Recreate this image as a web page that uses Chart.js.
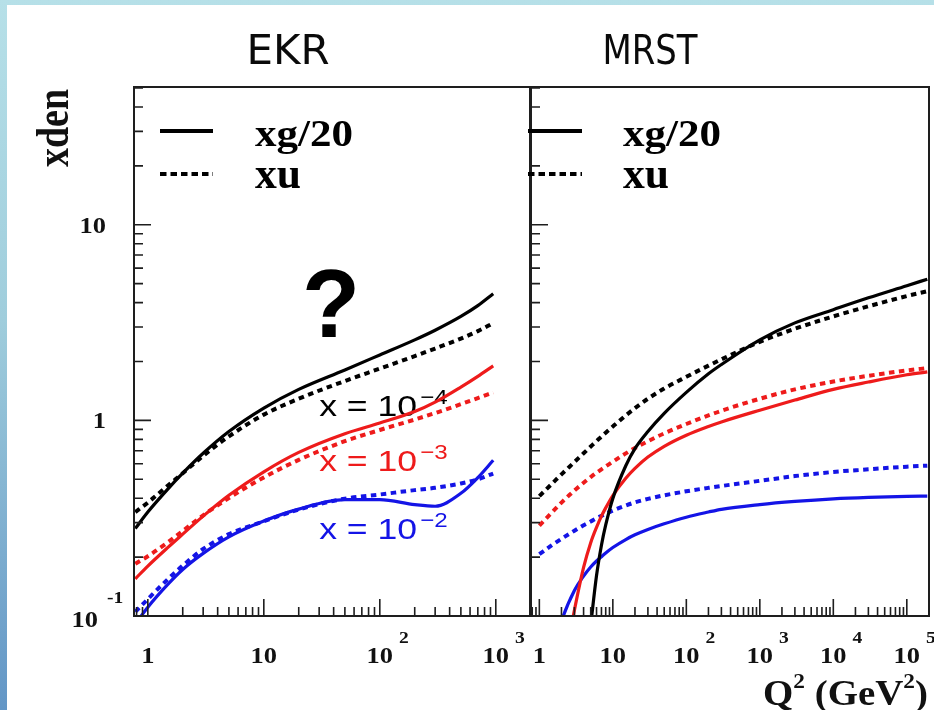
<!DOCTYPE html>
<html>
<head>
<meta charset="utf-8">
<title>xden vs Q2 - EKR / MRST</title>
<script src="https://cdn.jsdelivr.net/npm/chart.js@4.4.1/dist/chart.umd.min.js"></script>
<style>
  html, body { margin: 0; padding: 0; }
  body {
    width: 934px; height: 710px; overflow: hidden; position: relative;
    background: linear-gradient(180deg, #b6e0e8 0%, #9fcddc 45%, #6396c6 100%);
  }
  #sheet { position: absolute; left: 7px; top: 5px; right: 0; bottom: 0; background: #fff; }
  canvas { position: absolute; top: 0; }
  #ekr { left: 0; }
  #mrst { left: 520px; }
</style>
</head>
<body>
<div id="sheet"></div>
<canvas id="ekr" width="531" height="710"></canvas>
<canvas id="mrst" width="414" height="710"></canvas>
<script>
// Q^2 points (GeV^2) and curves.
// g = xg/20 (solid), u = xu (dashed); 4/3/2 -> x = 1e-4 / 1e-3 / 1e-2
const ekrQ2 = [0.78, 1, 1.5, 2, 3, 5, 10, 20, 50, 100, 200, 300, 500, 700, 950];
const ekrG4 = [0.28, 0.34, 0.448, 0.537, 0.679, 0.877, 1.156, 1.44, 1.81, 2.16, 2.58, 2.89, 3.40, 3.86, 4.44];
const ekrU4 = [0.34, 0.38, 0.466, 0.537, 0.658, 0.828, 1.07, 1.29, 1.59, 1.84, 2.13, 2.33, 2.62, 2.86, 3.14];
const ekrG3 = [0.155, 0.18, 0.225, 0.262, 0.324, 0.414, 0.546, 0.686, 0.855, 0.969, 1.11, 1.24, 1.48, 1.68, 1.90];
const ekrU3 = [0.185, 0.202, 0.239, 0.272, 0.327, 0.401, 0.511, 0.628, 0.783, 0.893, 1.01, 1.09, 1.21, 1.30, 1.39];
const ekrG2 = [0.091, 0.111, 0.146, 0.173, 0.209, 0.254, 0.306, 0.352, 0.393, 0.393, 0.371, 0.364, 0.424, 0.51, 0.625];
const ekrU2 = [0.105, 0.122, 0.155, 0.181, 0.220, 0.262, 0.305, 0.35, 0.398, 0.418, 0.44, 0.452, 0.476, 0.50, 0.535];

const mrstQ2 = [1, 1.5, 2, 3, 4, 5, 6, 7, 8, 10, 15, 20, 30, 50, 100, 200, 300, 1000, 3000, 1e4, 3e4, 1e5, 1.9e5];
const mrstG4 = [null, null, null, null, null, 0.09, 0.161, 0.230, 0.292, 0.399, 0.586, 0.717, 0.877, 1.086, 1.39, 1.73, 1.93, 2.58, 3.15, 3.68, 4.23, 4.88, 5.27];
const mrstU4 = [0.41, 0.476, 0.53, 0.612, 0.679, 0.735, 0.784, 0.826, 0.865, 0.931, 1.06, 1.155, 1.29, 1.455, 1.67, 1.905, 2.05, 2.52, 2.94, 3.40, 3.83, 4.32, 4.57];
const mrstG3 = [null, null, 0.0475, 0.107, 0.177, 0.237, 0.284, 0.324, 0.357, 0.413, 0.506, 0.568, 0.649, 0.737, 0.840, 0.931, 0.982, 1.127, 1.27, 1.44, 1.57, 1.71, 1.77];
const mrstU3 = [0.29, 0.34, 0.38, 0.438, 0.48, 0.513, 0.54, 0.562, 0.582, 0.615, 0.678, 0.722, 0.782, 0.858, 0.958, 1.06, 1.12, 1.29, 1.44, 1.58, 1.69, 1.80, 1.85];
const mrstG2 = [null, 0.061, 0.0938, 0.135, 0.160, 0.178, 0.191, 0.201, 0.210, 0.224, 0.246, 0.260, 0.277, 0.296, 0.320, 0.340, 0.351, 0.371, 0.385, 0.397, 0.404, 0.409, 0.410];
const mrstU2 = [0.207, 0.231, 0.248, 0.273, 0.291, 0.304, 0.316, 0.325, 0.333, 0.346, 0.367, 0.381, 0.397, 0.414, 0.434, 0.452, 0.462, 0.491, 0.519, 0.545, 0.562, 0.580, 0.587];

const ekrXTicks = [1, 10, 100, 1000];
const mrstXTicks = [1, 10, 100, 1000, 10000, 100000];
const yTicks = [0.1, 1, 10];

const BLACK = '#000000', RED = '#ee1b1b', BLUE = '#1414e6';
const SERIF = '"Liberation Serif", "Times New Roman", serif';
const SANS = '"Liberation Sans", Arial, sans-serif';
const NARROW = '"Liberation Sans Narrow", "DejaVu Sans Condensed", sans-serif';

function pts(q2, vals) {
  const out = [];
  q2.forEach((q, i) => { if (vals[i] != null) out.push({ x: q, y: vals[i] }); });
  return out;
}

function curve(q2, vals, color, dashed) {
  return {
    data: pts(q2, vals),
    borderColor: color,
    borderWidth: dashed ? 4 : 3.2,
    borderDash: dashed ? [5.5, 4.5] : [],
    pointRadius: 0,
    fill: false,
    cubicInterpolationMode: 'monotone',
    clip: 0
  };
}

// 10^n the way ROOT writes it
function expLabel(v) {
  const n = Math.round(Math.log10(v));
  if (n === 0) return { base: '1' };
  if (n === 1) return { base: '10' };
  return { base: '10', exp: String(n) };
}

// text squeezed/stretched horizontally (the slide is stretched)
function sText(ctx, s, x, y, font, sx, align) {
  ctx.save();
  ctx.font = font;
  ctx.translate(x, y);
  ctx.scale(sx, 1);
  ctx.textAlign = align || 'left';
  ctx.textBaseline = 'alphabetic';
  ctx.fillText(s, 0, 0);
  ctx.restore();
}
function sWidth(ctx, s, font, sx) {
  ctx.save();
  ctx.font = font;
  const w = ctx.measureText(s).width * sx;
  ctx.restore();
  return w;
}
function fitText(ctx, s, x, y, font, width, align) {
  ctx.save();
  ctx.font = font;
  const sx = width / ctx.measureText(s).width;
  ctx.restore();
  sText(ctx, s, x, y, font, sx, align);
}

const XF = 'bold 23px ' + SERIF;
const EF = 'bold 17px ' + SERIF;

function decor(cfg) {
  return {
    id: 'decor',
    beforeDatasetsDraw(chart) {
      const { ctx, scales: { x, y } } = chart;
      (cfg.notes || []).forEach(n => {
        ctx.fillStyle = n.color;
        const px = x.getPixelForValue(n.q2), py = y.getPixelForValue(n.y);
        fitText(ctx, 'x = 10', px, py, '30px ' + SANS, 98);
        sText(ctx, n.exp, px + 101, py - 12, '21px ' + SANS, 1.15);
      });
    },
    afterDatasetsDraw(chart) {
      const { ctx, chartArea: a, scales: { x, y } } = chart;
      ctx.save();
      // tick marks inside the frame
      ctx.strokeStyle = '#1e1e1e';
      ctx.lineWidth = 1.6;
      ctx.beginPath();
      for (let d = -1; d <= 6; d++) {
        for (let m = 1; m < 10; m++) {
          const v = m * Math.pow(10, d);
          if (v > x.min && v < x.max) {
            const p = x.getPixelForValue(v);
            ctx.moveTo(p, a.bottom);
            ctx.lineTo(p, a.bottom - (m === 1 ? 17 : 9));
          }
          if (v > y.min * 1.001 && v < y.max) {
            const p = y.getPixelForValue(v);
            ctx.moveTo(a.left, p);
            ctx.lineTo(a.left + (m === 1 ? 17 : 9), p);
          }
        }
      }
      ctx.stroke();
      ctx.lineWidth = 2;
      ctx.strokeRect(a.left, a.top, a.right - a.left, a.bottom - a.top);

      ctx.fillStyle = '#111';
      // x labels
      cfg.xTicks.forEach(v => {
        const p = x.getPixelForValue(v), L = expLabel(v);
        sText(ctx, L.base, p, 663, XF, 1.15, 'center');
        if (L.exp) {
          const w = sWidth(ctx, L.base, XF, 1.15);
          sText(ctx, L.exp, p + w / 2 + 6, 643, EF, 1.15);
        }
      });
      // y labels
      if (cfg.yLabels) {
        yTicks.forEach(v => {
          const p = y.getPixelForValue(v), L = expLabel(v);
          if (L.exp) {
            sText(ctx, L.base, 98, p + 11, XF, 1.15, 'right');
            sText(ctx, L.exp, 107, p - 13, EF, 1.15);
          } else {
            sText(ctx, L.base, 106, p + 8, XF, 1.15, 'right');
          }
        });
        // axis title, rotated
        ctx.save();
        ctx.font = 'bold 38px ' + SERIF;
        ctx.translate(68, 128);
        ctx.scale(1.2, 1);
        ctx.rotate(-Math.PI / 2);
        ctx.textAlign = 'center';
        ctx.fillText('xden', 0, 0);
        ctx.restore();
      }

      // legend
      const lg = cfg.legend;
      ctx.strokeStyle = '#000';
      ctx.lineWidth = 4;
      ctx.setLineDash([]);
      ctx.beginPath(); ctx.moveTo(lg.x0, 131); ctx.lineTo(lg.x1, 131); ctx.stroke();
      ctx.setLineDash([6.5, 4]);
      ctx.beginPath(); ctx.moveTo(lg.x0, 174); ctx.lineTo(lg.x1, 174); ctx.stroke();
      ctx.setLineDash([]);
      ctx.fillStyle = '#000';
      fitText(ctx, 'xg/20', lg.tx, 146, 'bold 37px ' + SERIF, 98);
      fitText(ctx, 'xu', lg.tx, 188, 'bold 45px ' + SERIF, 46);

      // panel title
      ctx.fillStyle = '#0a0a0a';
      fitText(ctx, cfg.title.text, cfg.title.cx, 64, '41px ' + NARROW, cfg.title.w, 'center');

      if (cfg.question) {
        ctx.fillStyle = '#000';
        fitText(ctx, '?', 302, 337, 'bold 96px ' + SANS, 58);
      }

      if (cfg.qLabel) {
        const big = 'bold 35px ' + SERIF, small = 'bold 21px ' + SERIF;
        const parts = [
          { t: 'Q', f: big, dy: 0 }, { t: '2', f: small, dy: -17 },
          { t: ' (GeV', f: big, dy: 0 }, { t: '2', f: small, dy: -17 },
          { t: ')', f: big, dy: 0 }
        ];
        let W = 0;
        parts.forEach(pt => { pt.w = sWidth(ctx, pt.t, pt.f, 1); W += pt.w; });
        const sx = 165 / W;
        let cx = cfg.qLabel - 520;
        ctx.fillStyle = '#111';
        parts.forEach(pt => { sText(ctx, pt.t, cx, 705 + pt.dy, pt.f, sx); cx += pt.w * sx; });
      }
      ctx.restore();
    }
  };
}

function makeChart(id, q2, series, xmin, xmax, padding, cfg) {
  const datasets = [
    curve(q2, series.g4, BLACK, false), curve(q2, series.u4, BLACK, true),
    curve(q2, series.g3, RED, false), curve(q2, series.u3, RED, true),
    curve(q2, series.g2, BLUE, false), curve(q2, series.u2, BLUE, true)
  ];
  return new Chart(document.getElementById(id).getContext('2d'), {
    type: 'line',
    data: { datasets },
    options: {
      responsive: false,
      animation: false,
      devicePixelRatio: 1,
      layout: { padding },
      plugins: { legend: { display: false }, tooltip: { enabled: false } },
      scales: {
        x: { type: 'logarithmic', min: xmin, max: xmax, display: false },
        y: { type: 'logarithmic', min: 0.1, max: 50.6, display: false }
      }
    },
    plugins: [decor(cfg)]
  });
}

makeChart('ekr', ekrQ2,
  { g4: ekrG4, u4: ekrU4, g3: ekrG3, u3: ekrU3, g2: ekrG2, u2: ekrU2 },
  0.76, 1972, { left: 134, right: 1, top: 87, bottom: 94 },
  {
    xTicks: ekrXTicks, yLabels: true, question: true,
    legend: { x0: 160, x1: 213, tx: 255 },
    title: { text: 'EKR', cx: 288, w: 83 },
    notes: [
      { q2: 30, y: 1.05, exp: '\u22124', color: BLACK },
      { q2: 30, y: 0.55, exp: '\u22123', color: RED },
      { q2: 30, y: 0.247, exp: '\u22122', color: BLUE }
    ]
  });

makeChart('mrst', mrstQ2,
  { g4: mrstG4, u4: mrstU4, g3: mrstG3, u3: mrstU3, g2: mrstG2, u2: mrstU2 },
  0.77, 200400, { left: 11, right: 5, top: 87, bottom: 94 },
  {
    xTicks: mrstXTicks, yLabels: false, question: false,
    legend: { x0: 8, x1: 62, tx: 103 },
    title: { text: 'MRST', cx: 130, w: 95 },
    qLabel: 763
  });
</script>
</body>
</html>
